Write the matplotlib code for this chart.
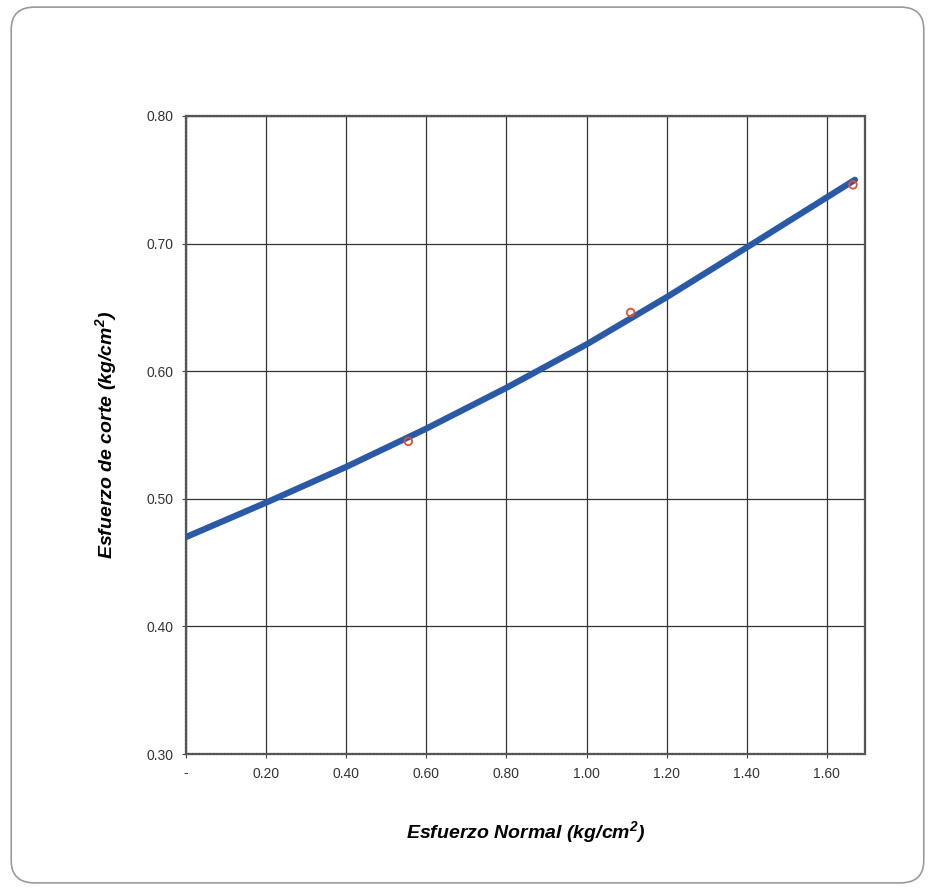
import matplotlib
matplotlib.use("Agg")
import matplotlib.pyplot as plt
from matplotlib.patches import FancyBboxPatch

# measured points
normal = [0.555, 1.11, 1.665]
corte = [0.545, 0.646, 0.746]

# fitted curve
curve_x = [0.0, 0.20, 0.40, 0.60, 0.80, 1.00, 1.20, 1.40, 1.67]
curve_y = [0.470, 0.497, 0.525, 0.555, 0.587, 0.621, 0.658, 0.697, 0.750]

x_ticks = [0.0, 0.2, 0.4, 0.6, 0.8, 1.0, 1.2, 1.4, 1.6]
x_labels = ["-", "0.20", "0.40", "0.60", "0.80", "1.00", "1.20", "1.40", "1.60"]
y_ticks = [0.30, 0.40, 0.50, 0.60, 0.70, 0.80]

plt.rcParams['font.family'] = ['Liberation Sans', 'DejaVu Sans']
plt.rcParams['mathtext.default'] = 'regular'

fig = plt.figure(figsize=(9.35, 8.9), dpi=100)
fig.patch.set_facecolor("white")

# rounded frame around the whole chart
frame = FancyBboxPatch((0.012, 0.008), 0.976, 0.984,
                       boxstyle="round,pad=0,rounding_size=0.025",
                       transform=fig.transFigure, facecolor="none",
                       edgecolor="#9a9a9a", linewidth=1.2, zorder=-1)
fig.patches.append(frame)

ax = fig.add_axes([0.1989, 0.1528, 0.7262, 0.7169])
ax.set_xlim(0, 1.695)
ax.set_ylim(0.30, 0.80)

ax.grid(True, color="#333333", linewidth=0.9)
ax.set_axisbelow(True)

ax.plot(curve_x, curve_y, color="#2a5aa6", linewidth=4.5,
        solid_capstyle="round", solid_joinstyle="round", zorder=3)
ax.scatter(normal, corte, s=30, facecolors="none", edgecolors="#e05030", linewidths=1.3, zorder=4)

ax.set_xticks(x_ticks)
ax.set_xticklabels(x_labels)
ax.set_yticks(y_ticks)
ax.set_yticklabels([f"{v:.2f}" for v in y_ticks])
ax.tick_params(labelsize=10, labelcolor="#333333", length=3, color="#444444", pad=6)

for s in ax.spines.values():
    s.set_color("#555555")
    s.set_linewidth(1.6)
    s.set_linestyle((0, (1, 0.6)))

ax.set_xlabel("Esfuerzo Normal (kg/cm$^2$)", fontsize=14, fontweight="bold",
              fontstyle="italic", labelpad=28)
ax.set_ylabel("Esfuerzo de corte (kg/cm$^2$)", fontsize=14, fontweight="bold",
              fontstyle="italic", labelpad=20)

fig.savefig("out.png", dpi=100)
